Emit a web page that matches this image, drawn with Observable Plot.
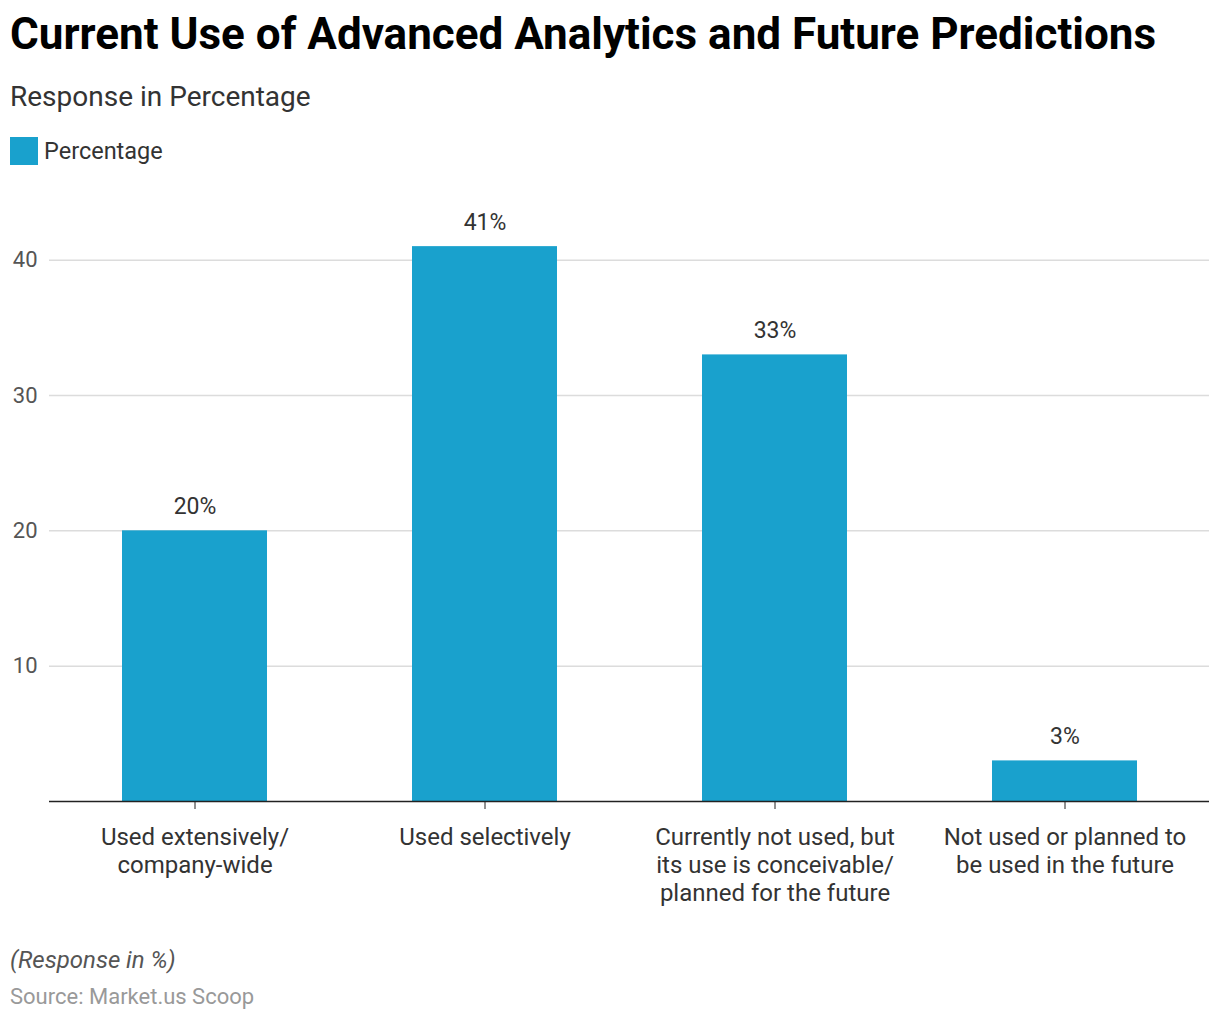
<!DOCTYPE html>
<html>
<head>
<meta charset="utf-8">
<script src="https://cdn.jsdelivr.net/npm/d3@7"></script>
<script src="https://cdn.jsdelivr.net/npm/@observablehq/plot@0.6"></script>
<style>
  html, body { margin: 0; padding: 0; background: #fff; }
  body { width: 1220px; height: 1020px; position: relative; font-family: Roboto, "Noto Sans", sans-serif; overflow: hidden; }
  .abs { position: absolute; white-space: nowrap; }
  #title { left: 10px; top: 8px; font-size: 44px; font-weight: 700; color: #000; }
  #subtitle { left: 10px; top: 80px; font-size: 28px; color: #333; }
  #legend { left: 10px; top: 137px; font-size: 23.5px; color: #333; display: flex; align-items: center; }
  #legend .sw { width: 28px; height: 28px; background: #19a1cd; margin-right: 6px; }
  #chart { position: absolute; left: 0; top: 170px; }
  #note { left: 10px; top: 946px; font-size: 24px; font-style: italic; color: #555; }
  #source { left: 10px; top: 984px; font-size: 22px; color: #999; }
</style>
</head>
<body>
<div id="title" class="abs">Current Use of Advanced Analytics and Future Predictions</div>
<div id="subtitle" class="abs">Response in Percentage</div>
<div id="legend" class="abs"><div class="sw"></div><span>Percentage</span></div>
<div id="chart"></div>
<div id="note" class="abs">(Response in %)</div>
<div id="source" class="abs">Source: Market.us Scoop</div>
<script>
const categories = [
  "Used extensively/\ncompany-wide",
  "Used selectively",
  "Currently not used, but\nits use is conceivable/\nplanned for the future",
  "Not used or planned to\nbe used in the future"
];
const values = [20, 41, 33, 3];
const yTicks = [10, 20, 30, 40];
const barColor = "#19a1cd";

const data = categories.map((c, i) => ({category: c, value: values[i]}));

const chart = Plot.plot({
  width: 1220,
  height: 740,
  marginLeft: 49,
  marginRight: 11,
  marginTop: 22,
  marginBottom: 109,
  style: {fontFamily: "Roboto, 'Noto Sans', sans-serif", fontSize: "22px", background: "#fff"},
  x: {domain: categories, paddingInner: 0.5, paddingOuter: 0.25, label: null},
  y: {domain: [0, 45], label: null},
  marks: [
    Plot.ruleY(yTicks, {stroke: "#dcdcdc", strokeWidth: 1.5}),
    Plot.barY(data, {x: "category", y: "value", fill: barColor}),
    Plot.ruleY([0], {stroke: "#222", strokeWidth: 1.5}),
    Plot.text(data, {x: "category", y: "value", text: d => `${d.value}%`, dy: -24, fill: "#333", fontSize: 23}),
    Plot.axisY({ticks: yTicks, tickSize: 0, tickPadding: 12, label: null, fill: "#555", fontSize: 22}),
    Plot.axisX({tickSize: 8, stroke: "#222", tickPadding: 16, label: null, fill: "#333", fontSize: 24, lineHeight: 1.167, lineAnchor: "top"})
  ]
});
document.getElementById("chart").appendChild(chart);
</script>
</body>
</html>
